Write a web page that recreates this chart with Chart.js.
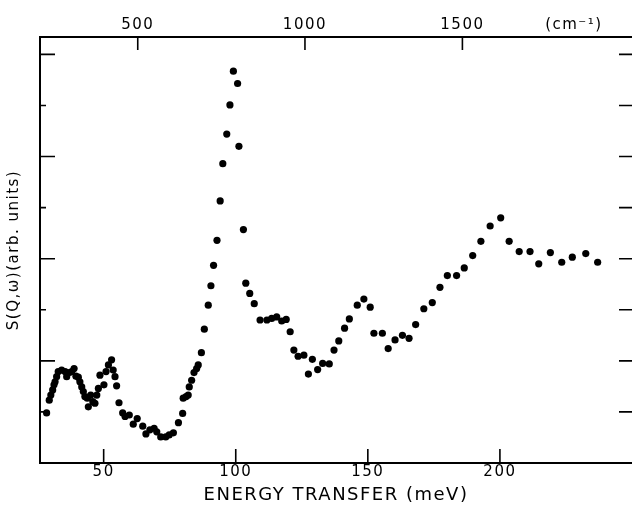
<!DOCTYPE html>
<html>
<head>
<meta charset="utf-8">
<script src="https://cdn.jsdelivr.net/npm/chart.js@4/dist/chart.umd.min.js"></script>
<style>
  html, body { margin: 0; padding: 0; background: #fff; }
  #wrap { width: 632px; height: 509px; }
</style>
</head>
<body>
<div id="wrap"><canvas id="spectrum" width="632" height="509"></canvas></div>
<script>
// energy transfer (meV) and S(Q,w) in arbitrary units
const energy = [28.4,29.4,30.0,30.7,31.2,31.6,32.2,32.8,34.1,35.4,
  36.0,37.0,37.9,38.8,39.5,40.4,41.0,41.7,42.3,42.9,
  43.8,44.2,45.1,45.9,46.7,47.4,48.0,48.6,50.1,50.9,
  51.8,53.0,53.6,54.3,54.9,55.8,57.2,58.1,59.7,61.2,
  62.7,64.8,66.0,67.5,69.1,70.1,71.6,73.5,74.8,76.4,
  78.3,79.9,80.1,81.2,82.0,82.4,83.3,84.2,85.2,85.8,
  87.0,88.1,89.6,90.6,91.6,92.9,94.1,95.1,96.6,97.8,
  99.1,100.7,101.2,102.9,103.8,105.3,107.0,109.2,111.8,113.6,
  115.5,117.4,119.1,120.6,122.0,123.6,125.8,127.5,129.0,131.0,
  132.9,135.4,137.2,139.0,141.2,143.0,146.0,148.5,150.9,152.3,
  155.5,157.7,160.3,163.1,165.6,168.1,171.2,174.4,177.3,180.1,
  183.6,186.5,189.7,192.8,196.3,200.3,203.5,207.3,211.4,214.7,
  219.1,223.4,227.4,232.5,237.0];
const intensity = [0.98,1.23,1.33,1.43,1.53,1.59,1.69,1.79,1.82,1.79,
  1.69,1.77,1.79,1.85,1.70,1.68,1.59,1.49,1.40,1.30,
  1.27,1.10,1.33,1.20,1.17,1.33,1.46,1.72,1.53,1.79,
  1.92,2.02,1.82,1.69,1.51,1.18,0.98,0.91,0.94,0.76,
  0.87,0.72,0.57,0.65,0.68,0.61,0.51,0.51,0.55,0.59,
  0.79,0.97,1.27,1.30,1.33,1.49,1.62,1.77,1.85,1.92,
  2.16,2.62,3.09,3.47,3.87,4.36,5.13,5.86,6.44,7.01,
  7.67,7.43,6.20,4.57,3.52,3.32,3.12,2.80,2.80,2.83,
  2.86,2.78,2.81,2.57,2.21,2.09,2.11,1.74,2.03,1.83,
  1.95,1.94,2.21,2.39,2.64,2.82,3.09,3.21,3.05,2.54,
  2.54,2.24,2.41,2.50,2.44,2.71,3.02,3.14,3.44,3.67,
  3.67,3.82,4.06,4.34,4.64,4.80,4.34,4.14,4.14,3.90,
  4.12,3.93,4.03,4.10,3.93];

const meVTicks = [50, 100, 150, 200];
// top axis: wavenumber labels, placed where they sit on the meV scale
const cmTickPos = [62.9, 126.2, 185.8];
const cmTickLabels = ['500', '1000', '1500'];
const cmUnitPos = 228;
const cmUnitLabel = '(cm\u207B\u00B9)';
const yTicks = [1, 2, 3, 4, 5, 6, 7, 8];

const X_MIN = 25.9, X_MAX = 250, Y_MIN = 0, Y_MAX = 8.34;
const FONT = 'DejaVu Sans';

const spacing = {
    id: 'spacing',
    beforeUpdate(chart) { chart.ctx.letterSpacing = '1.5px'; },
    beforeDraw(chart) { chart.ctx.letterSpacing = '1.5px'; }
};

// inward tick marks on all four sides
const innerTicks = {
    id: 'innerTicks',
    afterDraw(chart) {
        const { ctx, chartArea: a, scales } = chart;
        ctx.save();
        ctx.strokeStyle = '#000';
        ctx.lineWidth = 1.6;
        ctx.beginPath();
        meVTicks.forEach(v => {
            const x = scales.x.getPixelForValue(v);
            ctx.moveTo(x, a.bottom); ctx.lineTo(x, a.bottom - 14);
        });
        cmTickPos.forEach(v => {
            const x = scales.x2.getPixelForValue(v);
            ctx.moveTo(x, a.top); ctx.lineTo(x, a.top + 13);
        });
        yTicks.forEach(v => {
            const y = scales.y.getPixelForValue(v);
            const len = v % 2 === 0 ? 15 : 6;
            ctx.moveTo(a.left, y); ctx.lineTo(a.left + len, y);
            ctx.moveTo(a.right, y); ctx.lineTo(a.right - 13, y);
        });
        ctx.stroke();
        ctx.restore();
    }
};

function fixHeight(h) {
    return s => { s.height = h; s.paddingLeft = 0; s.paddingRight = 0; };
}

const points = energy.map((e, i) => ({ x: e, y: intensity[i] }));

new Chart(document.getElementById('spectrum'), {
    type: 'scatter',
    data: {
        datasets: [{
            data: points,
            backgroundColor: '#000',
            borderWidth: 0,
            pointRadius: 3.6,
            pointHoverRadius: 3.6
        }]
    },
    options: {
        responsive: false,
        animation: false,
        devicePixelRatio: 1,
        layout: { padding: 0, autoPadding: false },
        plugins: { legend: { display: false }, tooltip: { enabled: false } },
        scales: {
            x: {
                type: 'linear', position: 'bottom', min: X_MIN, max: X_MAX,
                grid: { display: false, drawTicks: false },
                border: { display: true, color: '#000', width: 2 },
                afterBuildTicks: s => { s.ticks = meVTicks.map(v => ({ value: v })); },
                afterFit: fixHeight(46),
                ticks: { color: '#000', padding: 0, maxRotation: 0, font: { family: FONT, size: 15 } },
                title: {
                    display: true, text: 'ENERGY TRANSFER (meV)', color: '#000',
                    font: { family: FONT, size: 18 }, padding: { top: 0, bottom: 3 }
                }
            },
            x2: {
                type: 'linear', position: 'top', min: X_MIN, max: X_MAX,
                grid: { display: false, drawTicks: false },
                border: { display: true, color: '#000', width: 2 },
                afterBuildTicks: s => {
                    s.ticks = cmTickPos.map(v => ({ value: v })).concat([{ value: cmUnitPos }]);
                },
                afterFit: fixHeight(37),
                ticks: {
                    color: '#000', padding: 3, maxRotation: 0, autoSkip: false,
                    font: { family: FONT, size: 15 },
                    callback: (v, i) => i < cmTickLabels.length ? cmTickLabels[i] : cmUnitLabel
                }
            },
            y: {
                type: 'linear', position: 'left', min: Y_MIN, max: Y_MAX,
                grid: { display: false, drawTicks: false },
                border: { display: true, color: '#000', width: 2 },
                afterFit: s => { s.width = 40; },
                ticks: { display: false },
                title: {
                    display: true, text: 'S(Q,\u03C9)(arb. units)', color: '#000',
                    font: { family: FONT, size: 15 }, padding: { top: 5, bottom: 0 }
                }
            }
        }
    },
    plugins: [spacing, innerTicks]
});
</script>
</body>
</html>
